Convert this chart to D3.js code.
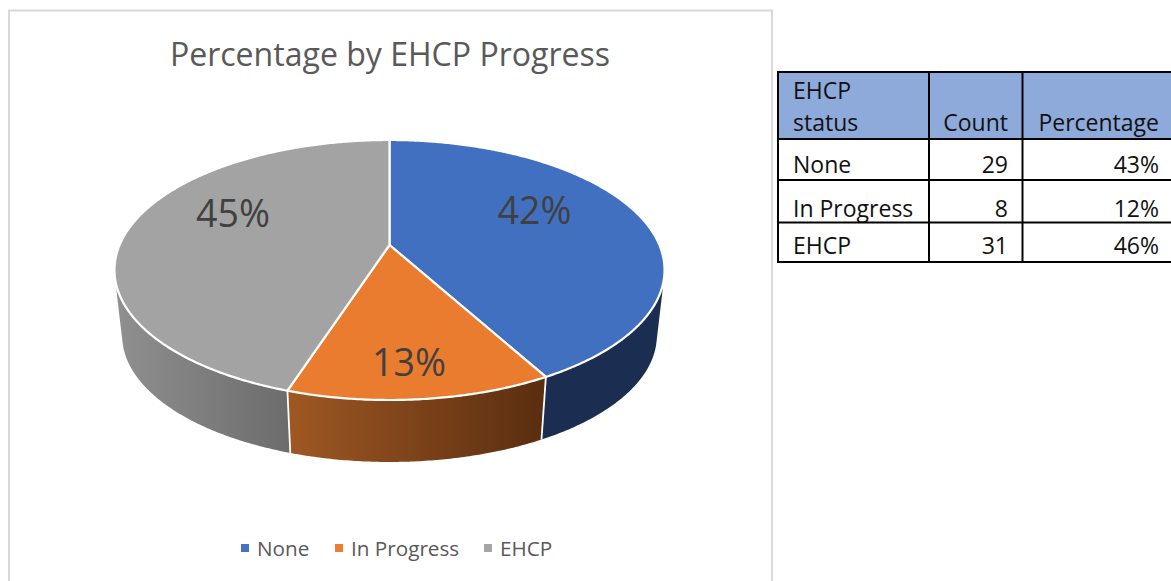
<!DOCTYPE html>
<html><head><meta charset="utf-8">
<style>html,body{margin:0;padding:0;background:#fff;overflow:hidden}svg{display:block}text{font-family:"Open Sans",sans-serif}</style>
<script src="https://cdnjs.cloudflare.com/ajax/libs/d3/7.8.5/d3.min.js"></script>
</head><body><svg id="c" width="1171" height="581"></svg>
<script>
const categories = ["None", "In Progress", "EHCP"];
const chartPercent = [42, 13, 45];
const tableHeader = [["EHCP", "status"], ["Count"], ["Percentage"]];
const tableCounts = [29, 8, 31];
const tablePercent = ["43%", "12%", "46%"];
const chartTitle = "Percentage by EHCP Progress";

const topColors = ["#4270c0", "#ea7c30", "#a3a3a3"];
const legendColors = ["#4472c4", "#ed7d31", "#a5a5a5"];
const sideStops = [["#1b2d50", "#1b2d50"], ["#9f5823", "#5a2e10"], ["#8f8f8f", "#6c6c6c"]];

const svg = d3.select("#c");
const defs = svg.append("defs");

// chart frame
svg.append("path").attr("d", "M9,581V10.5H772V581").attr("fill", "#fff").attr("stroke", "#d9d9d9").attr("stroke-width", 2);

svg.append("text").attr("x", 390).attr("y", 66).attr("text-anchor", "middle")
  .attr("font-size", 32.05).attr("fill", "#595959").text(chartTitle);

// perspective projection of the unit disc
const cx = 389.5, apexY = 245, persp = 0.1923, A = 269.9, B = 125.2;
const depthScale = 0.972, depthShift = 66.3;
function topPt(a) {
  const u = Math.sin(a), v = -Math.cos(a), w = 1 - persp * v;
  return [cx + A * u / w, apexY + B * v / w];
}
function botPt(a) {
  const p = topPt(a);
  return [cx + depthScale * (p[0] - cx), apexY + depthScale * (p[1] - apexY) + depthShift];
}
const pie = d3.pie().sort(null).startAngle(0).endAngle(2 * Math.PI);
const arcs = pie(chartPercent);
const step = Math.PI / 360;
const samples = d => {
  const n = Math.ceil((d.endAngle - d.startAngle) / step);
  return d3.range(n + 1).map(i => d.startAngle + (d.endAngle - d.startAngle) * i / n);
};
const line = d3.line();

// sides
arcs.forEach((d, i) => {
  const id = "side" + i;
  const g = defs.append("linearGradient").attr("id", id).attr("gradientUnits", "userSpaceOnUse")
    .attr("x1", i === 1 ? 288 : 118).attr("x2", i === 1 ? 542 : 290).attr("y1", 0).attr("y2", 0);
  g.append("stop").attr("offset", 0).attr("stop-color", sideStops[i][0]);
  g.append("stop").attr("offset", 1).attr("stop-color", sideStops[i][1]);
  const as = samples(d);
  // keep only front-facing quads
  const quads = [];
  for (let k = 0; k < as.length - 1; k++) {
    const a = topPt(as[k]), b = topPt(as[k + 1]), e = botPt(as[k]);
    const cross = (b[0] - a[0]) * (e[1] - a[1]) - (b[1] - a[1]) * (e[0] - a[0]);
    if (cross < 0) quads.push(k);
  }
  if (!quads.length) return;
  const vis = [...quads.map(k => as[k]), as[quads[quads.length - 1] + 1]];
  const poly = [...vis.map(topPt), ...vis.slice().reverse().map(botPt)];
  svg.append("path").attr("d", line(poly) + "Z").attr("fill", `url(#${id})`);
});
// white seams between side faces
arcs.slice(0, 2).forEach(d => {
  svg.append("path").attr("d", line([topPt(d.endAngle), botPt(d.endAngle)]))
    .attr("stroke", "#fff").attr("stroke-width", 1.8).attr("fill", "none");
});
// top faces
arcs.forEach((d, i) => {
  const poly = [[cx, apexY], ...samples(d).map(topPt)];
  svg.append("path").attr("d", line(poly) + "Z").attr("fill", topColors[i])
    .attr("stroke", "#fff").attr("stroke-width", 2.2).attr("stroke-linejoin", "round");
});

// data labels
const labelSpots = [[534.5, 224], [409, 376], [233, 227]];
svg.selectAll("text.lab").data(chartPercent).join("text").attr("class", "lab")
  .attr("x", (d, i) => labelSpots[i][0]).attr("y", (d, i) => labelSpots[i][1])
  .attr("text-anchor", "middle").attr("font-size", 37.5).attr("fill", "#404040").text(d => d + "%");

// legend
const legX = [241, 335, 484];
categories.forEach((c, i) => {
  svg.append("rect").attr("x", legX[i]).attr("y", 544).attr("width", 8).attr("height", 8).attr("fill", legendColors[i]);
  svg.append("text").attr("x", legX[i] + 16).attr("y", 556).attr("font-size", 20.7).attr("fill", "#595959").text(c);
});

// table
const colX = [778, 929, 1022.5, 1172];
const rowY = [72, 139, 180, 222.5, 262];
svg.append("rect").attr("x", colX[0]).attr("y", rowY[0]).attr("width", colX[3] - colX[0]).attr("height", rowY[1] - rowY[0]).attr("fill", "#8eaadb");
const tfs = 23, tc = "#111";
const put = (x, y, t, anchor) => svg.append("text").attr("x", x).attr("y", y).attr("font-size", tfs)
  .attr("fill", tc).attr("text-anchor", anchor || "start").text(t);
put(793, 99, tableHeader[0][0]); put(793, 131, tableHeader[0][1]);
put(1008, 131, tableHeader[1][0], "end"); put(1159, 131, tableHeader[2][0], "end");
const baseY = [173, 216.5, 254];
categories.forEach((c, i) => {
  put(793, baseY[i], c);
  put(1008, baseY[i], tableCounts[i], "end");
  put(1159, baseY[i], tablePercent[i], "end");
});
rowY.forEach(y => svg.append("line").attr("x1", colX[0] - 1).attr("x2", colX[3]).attr("y1", y).attr("y2", y).attr("stroke", "#000").attr("stroke-width", 2));
colX.slice(0, 3).forEach(x => svg.append("line").attr("x1", x).attr("x2", x).attr("y1", rowY[0]).attr("y2", rowY[4]).attr("stroke", "#000").attr("stroke-width", 2));
</script></body></html>
